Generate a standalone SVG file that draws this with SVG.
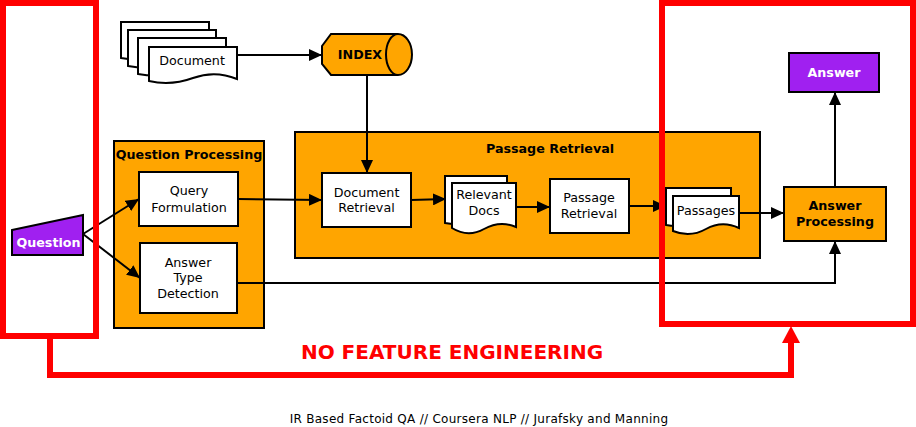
<svg xmlns="http://www.w3.org/2000/svg" width="916" height="427" viewBox="0 0 916 427">
<defs>
<marker id="ah" markerUnits="userSpaceOnUse" markerWidth="14" markerHeight="12" refX="13" refY="6" orient="auto">
<path d="M0,0 L13,6 L0,12 Z" fill="#000"/>
</marker>
</defs>
<style>
text{font-family:"DejaVu Sans","Liberation Sans",sans-serif;font-size:12.7px;text-anchor:middle;fill:#000}
.b{font-weight:bold}
.w{fill:#fff}
.box{fill:#fff;stroke:#000;stroke-width:2}
.org{fill:#FFA500;stroke:#000;stroke-width:2}
.pur{fill:#A020F0;stroke:#000;stroke-width:2}
.doc{fill:#fff;stroke:#000;stroke-width:2}
.con{fill:none;stroke:#000;stroke-width:2;marker-end:url(#ah)}
.red{fill:none;stroke:#f00;stroke-width:6}
</style>
<rect width="916" height="427" fill="#fff"/>

<g id="question-processing">
<rect class="org" x="114" y="141" width="150" height="187"/>
<text class="b" x="189" y="159">Question Processing</text>
</g>
<g id="passage-retrieval-group">
<rect class="org" x="295" y="132" width="465" height="126"/>
<text class="b" x="550" y="153">Passage Retrieval</text>
</g>

<g id="document">
<path class="doc" d="M121,22 H209 V56 Q187,50 165,56 T121,58 Z"/>
<path class="doc" d="M128,30 H216 V64 Q194,58 172,64 T128,66 Z"/>
<path class="doc" d="M138,38 H226 V72 Q204,66 182,72 T138,74 Z"/>
<path class="doc" d="M149,47 H237 V79 Q215,70 193,78 T149,81 Z"/>
<text x="192" y="65">Document</text>
</g>

<g id="index">
<path d="M331,34 H398 A14,20.5 0 0 1 398,75 H331 L322,64 V46 Z" fill="#FFA500" stroke="#000" stroke-width="2"/>
<path d="M398,34 A12,20.5 0 0 0 398,75" fill="none" stroke="#000" stroke-width="2"/>
<text class="b" x="360" y="59">INDEX</text>
</g>

<g id="question">
<path class="pur" d="M12,230 L83,215 V255 H12 Z"/>
<text class="b w" x="48.5" y="247">Question</text>
</g>

<g id="query-formulation">
<rect class="box" x="139" y="172" width="99" height="54"/>
<text x="189" y="195">Query</text>
<text x="189" y="211.5">Formulation</text>
</g>

<g id="answer-type-detection">
<rect class="box" x="140" y="243" width="97" height="70"/>
<text x="188" y="266.5">Answer</text>
<text x="188" y="282.3">Type</text>
<text x="188" y="298.2">Detection</text>
</g>

<g id="document-retrieval">
<rect class="box" x="322" y="173" width="89" height="54"/>
<text x="366.5" y="196.5">Document</text>
<text x="366.5" y="212.3">Retrieval</text>
</g>

<g id="relevant-docs">
<path class="doc" d="M445,176 H507 V220 Q491,214 476,220 T445,223 Z"/>
<path class="doc" d="M452,183 H516 V227 Q500,220 484,229 T452,228 Z"/>
<text x="484" y="199">Relevant</text>
<text x="484" y="215">Docs</text>
</g>

<g id="passage-retrieval">
<rect class="box" x="550" y="179" width="79" height="54"/>
<text x="589" y="202.3">Passage</text>
<text x="589" y="218.3">Retrieval</text>
</g>

<g id="passages">
<path class="doc" d="M666,188 H731 V222 Q715,216 698,222 T666,225 Z"/>
<path class="doc" d="M673,196 H739 V228 Q722,220 706,229 T673,231 Z"/>
<text x="706" y="215">Passages</text>
</g>

<g id="answer-processing">
<rect class="org" x="784" y="187" width="102" height="54"/>
<text class="b" x="835" y="210">Answer</text>
<text class="b" x="835" y="226">Processing</text>
</g>

<g id="answer">
<rect class="pur" x="789" y="53" width="90" height="39"/>
<text class="b w" x="834" y="77">Answer</text>
</g>

<g id="connectors">
<path class="con" d="M237,55 H322"/>
<path class="con" d="M367,75 V173"/>
<path class="con" d="M83,234 L139,199"/>
<path class="con" d="M83,234 L140,278"/>
<path class="con" d="M238,199 L322,200"/>
<path class="con" d="M411,200 L446,199"/>
<path class="con" d="M516,207 H550"/>
<path class="con" d="M629,206 H666"/>
<path class="con" d="M739,213 H784"/>
<path class="con" d="M237,283 H835 V241"/>
<path class="con" d="M835,187 V92"/>
</g>

<g id="red-overlay">
<rect class="red" x="3" y="3" width="93" height="333"/>
<rect class="red" x="662" y="3" width="251" height="321"/>
<path d="M50,336 V375 H791 V342" fill="none" stroke="#f00" stroke-width="6"/>
<path d="M782,343 L791,326 L800,343 Z" fill="#f00"/>
<text class="b" x="452" y="359" style="font-size:20px;fill:#f00">NO FEATURE ENGINEERING</text>
</g>

<text x="479" y="423" style="font-size:12px;letter-spacing:0.28px">IR Based Factoid QA // Coursera NLP // Jurafsky and Manning</text>
</svg>
